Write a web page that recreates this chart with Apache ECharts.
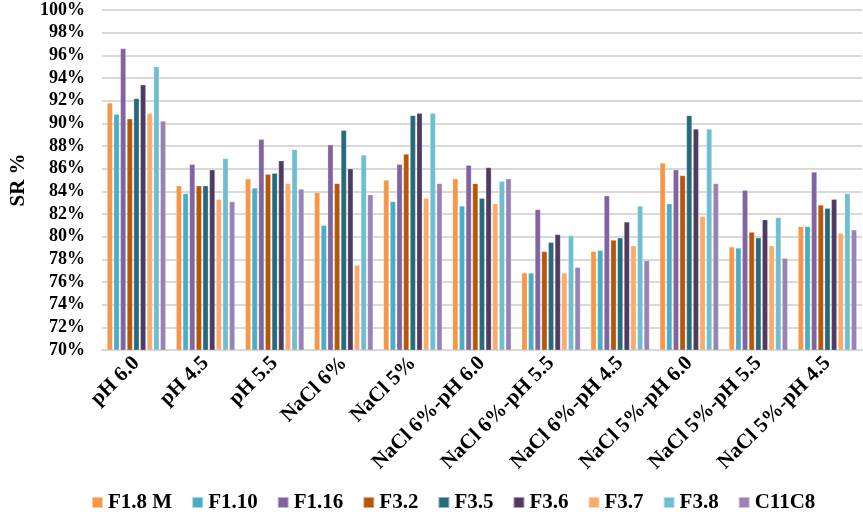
<!DOCTYPE html>
<html>
<head>
<meta charset="utf-8">
<script src="https://cdn.jsdelivr.net/npm/echarts@6/dist/echarts.min.js"></script>
<style>
html,body{margin:0;padding:0;background:#fff;}
#chart{width:863px;height:519px;}
</style>
</head>
<body>
<div id="chart"></div>
<script>
var categories = ['pH 6.0','pH 4.5','pH 5.5','NaCl 6%','NaCl 5%','NaCl 6%-pH 6.0','NaCl 6%-pH 5.5','NaCl 6%-pH 4.5','NaCl 5%-pH 6.0','NaCl 5%-pH 5.5','NaCl 5%-pH 4.5'];
var seriesNames = ['F1.8 M','F1.10','F1.16','F3.2','F3.5','F3.6','F3.7','F3.8','C11C8'];
var F1_8M = [91.8, 84.5, 85.1, 83.9, 85.0, 85.1, 76.8, 78.7, 86.5, 79.1, 80.9];
var F1_10 = [90.8, 83.8, 84.3, 81.0, 83.1, 82.7, 76.8, 78.8, 82.9, 79.0, 80.9];
var F1_16 = [96.6, 86.4, 88.6, 88.1, 86.4, 86.3, 82.4, 83.6, 85.9, 84.1, 85.7];
var F3_2  = [90.4, 84.5, 85.5, 84.7, 87.3, 84.7, 78.7, 79.7, 85.4, 80.4, 82.8];
var F3_5  = [92.2, 84.5, 85.6, 89.4, 90.7, 83.4, 79.5, 79.9, 90.7, 79.9, 82.5];
var F3_6  = [93.4, 85.9, 86.7, 86.0, 90.9, 86.1, 80.2, 81.3, 89.5, 81.5, 83.3];
var F3_7  = [90.9, 83.3, 84.7, 77.5, 83.4, 82.9, 76.8, 79.2, 81.8, 79.2, 80.3];
var F3_8  = [95.0, 86.9, 87.7, 87.2, 90.9, 84.9, 80.1, 82.7, 89.5, 81.7, 83.8];
var C11C8 = [90.2, 83.1, 84.2, 83.7, 84.7, 85.1, 77.3, 77.9, 84.7, 78.1, 80.6];
var seriesValues = [F1_8M, F1_10, F1_16, F3_2, F3_5, F3_6, F3_7, F3_8, C11C8];
var colors = ['#F79646','#4BACC6','#8064A2','#B65708','#276A7C','#4D3B62','#F9AB6B','#6FBDD1','#9983B5'];
var yTicks = {min: 70, max: 100, interval: 2};

var font = '"Liberation Serif", "Times New Roman", serif';
var chart = echarts.init(document.getElementById('chart'));
var series = seriesNames.map(function (n, i) {
  return {
    name: n,
    type: 'bar',
    data: seriesValues[i],
    barCategoryGap: '15%',
    barGap: '20%',
    itemStyle: {color: colors[i], borderColor: 'rgba(255,255,255,0.5)', borderWidth: 0.5},
    animation: false
  };
});
chart.setOption({
  color: colors,
  animation: false,
  grid: {left: 92, right: 1, top: 10, bottom: 169, containLabel: false},
  legend: {
    data: seriesNames,
    left: 86,
    bottom: 1,
    icon: 'rect',
    itemWidth: 11,
    itemHeight: 11,
    itemGap: 19,
    textStyle: {fontFamily: font, fontWeight: 'bold', fontSize: 21, color: '#000'}
  },
  xAxis: {
    type: 'category',
    data: categories,
    axisTick: {show: false},
    axisLine: {lineStyle: {color: '#d9d9d9', width: 2}},
    axisLabel: {
      interval: 0,
      rotate: 45,
      margin: 10,
      fontFamily: font,
      fontWeight: 'bold',
      fontSize: 21,
      color: '#000'
    }
  },
  yAxis: {
    type: 'value',
    min: yTicks.min,
    max: yTicks.max,
    interval: yTicks.interval,
    name: 'SR %',
    nameLocation: 'middle',
    nameRotate: 90,
    nameGap: 66,
    nameTextStyle: {fontFamily: font, fontWeight: 'bold', fontSize: 21, color: '#000'},
    axisLine: {show: false},
    axisTick: {show: false},
    splitLine: {lineStyle: {color: '#d9d9d9', width: 2}},
    axisLabel: {
      formatter: '{value}%',
      margin: 17,
      fontFamily: font,
      fontWeight: 'bold',
      fontSize: 18,
      color: '#000'
    }
  },
  series: series
});
</script>
</body>
</html>
